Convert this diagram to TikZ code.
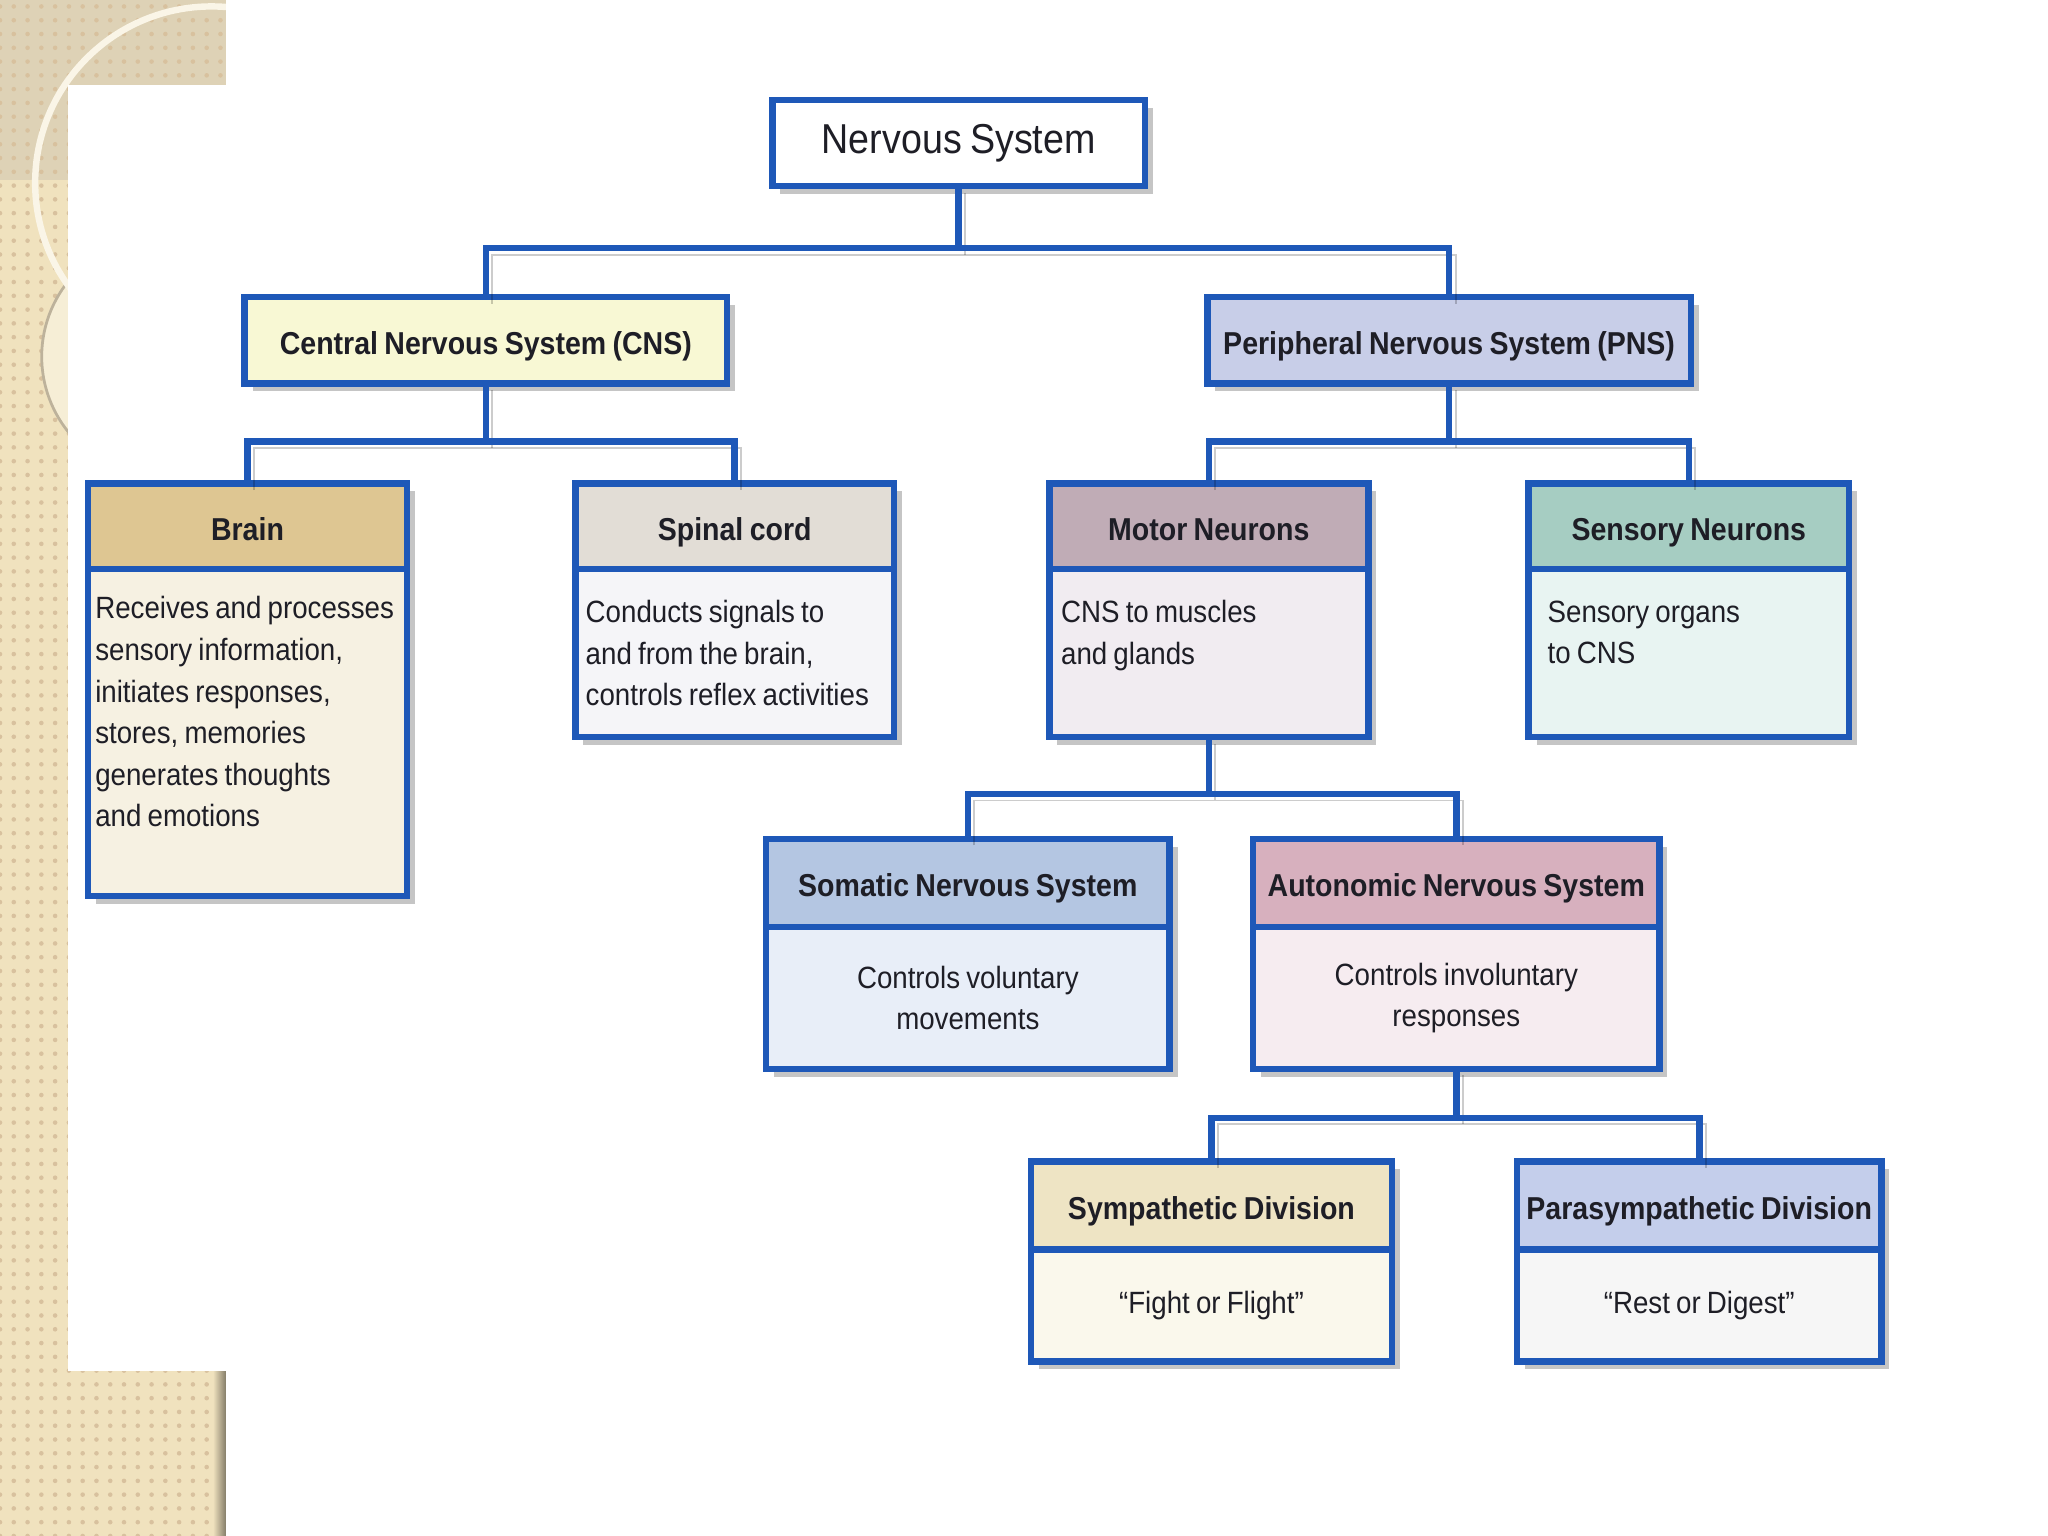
\documentclass[tikz,border=0pt]{standalone}
\usepackage{fontspec}
\setmainfont{Liberation Sans}[FakeStretch=0.9, WordSpace=0.8]
\usepackage{tikz}
\usetikzlibrary{positioning}
\usetikzlibrary{shadows}
\usetikzlibrary{patterns}
\usepackage{xcolor}

\definecolor{nsblue}{RGB}{30,88,184}
\definecolor{nstext}{RGB}{30,30,38}
\definecolor{nsbeige}{RGB}{240,226,190}
\definecolor{nsgrey}{RGB}{222,210,182}
\definecolor{nscream}{RGB}{246,238,214}
\definecolor{cnsh}{RGB}{248,248,212}
\definecolor{pnsh}{RGB}{200,206,232}
\definecolor{brainh}{RGB}{222,198,146}
\definecolor{brainb}{RGB}{246,241,226}
\definecolor{spinalh}{RGB}{226,221,214}
\definecolor{spinalb}{RGB}{245,245,248}
\definecolor{motorh}{RGB}{192,172,182}
\definecolor{motorb}{RGB}{241,236,241}
\definecolor{sensh}{RGB}{166,205,194}
\definecolor{sensb}{RGB}{232,244,242}
\definecolor{somh}{RGB}{180,198,226}
\definecolor{somb}{RGB}{232,238,248}
\definecolor{autoh}{RGB}{215,176,190}
\definecolor{autob}{RGB}{246,236,240}
\definecolor{symh}{RGB}{238,228,196}
\definecolor{symb}{RGB}{250,248,236}
\definecolor{parah}{RGB}{196,206,235}
\definecolor{parab}{RGB}{246,246,246}

\newcommand{\nstitle}{\fontsize{9.1}{11}\selectfont}
\newcommand{\nshead}{\fontsize{6.9}{8}\selectfont\bfseries}
\newcommand{\nsbody}{\fontsize{6.7}{9.05}\selectfont}

\tikzset{
  box/.style={draw=nsblue, line width=0.05cm, inner sep=0pt, outer sep=0pt, text=nstext,
    drop shadow={shadow xshift=0.06cm, shadow yshift=-0.06cm, opacity=0.45}},
  head/.style={box, font=\nshead, text height=1.6ex, text depth=0.45ex},
  note/.style={box, font=\nsbody, execute at begin node={\spaceskip=0pt\relax}},
  link/.style={draw=nsblue, line width=0.05cm,
    preaction={draw=black, opacity=0.2, transform canvas={xshift=0.05cm, yshift=-0.05cm}}},
}

\begin{document}
\begin{tikzpicture}[x=0.01cm, y=-0.01cm]
  \useasboundingbox (0,0) rectangle (1568,1176);
  % slide background
  \fill[white] (0,0) rectangle (1568,1176);
  \begin{scope}
    \clip (0,0) rectangle (173,1176);
    \fill[nsbeige] (0,0) rectangle (173,1176);
    \fill[nsgrey] (0,0) rectangle (173,138);
    \fill[pattern=dots, pattern color=nsgrey!80!brown] (0,0) rectangle (173,1176);
    \draw[nsgrey!85!black, fill=nscream, line width=0.6pt] (124,273) circle[radius=0.92cm];
    \draw[nscream!60!white, line width=1.4pt] (162,140) circle[radius=1.35cm];
  \end{scope}
  \shade[left color=nsbeige, right color=nsbeige!55!black] (163,1050) rectangle (173,1176);
  \fill[white] (52,65) rectangle (1452,1050);

  \node[box, fill=white, font=\nstitle, minimum width=2.85cm, minimum height=0.66cm] (ns) at (734,109.5) {Nervous System};

  \node[head, fill=cnsh, minimum width=3.69cm, minimum height=0.66cm] (cns) at (372,260.5) {Central Nervous System (CNS)};
  \node[head, fill=pnsh, minimum width=3.70cm, minimum height=0.66cm] (pns) at (1109.5,260.5) {Peripheral Nervous System (PNS)};

  \node[head, fill=brainh, minimum width=2.44cm, minimum height=0.655cm] (brain) at (189.5,403) {Brain};
  \node[note, fill=brainb, minimum width=2.44cm, minimum height=2.5cm, text width=2.33cm, align=left, below=0pt of brain] (brainb)
    {Receives and processes\\ sensory information,\\ initiates responses,\\ stores, memories\\ generates thoughts\\ and emotions\\ ~};

  \node[head, fill=spinalh, minimum width=2.44cm, minimum height=0.655cm] (spinal) at (562.5,403) {Spinal cord};
  \node[note, fill=spinalb, minimum width=2.44cm, minimum height=1.285cm, text width=2.28cm, align=left, below=0pt of spinal] (spinalb)
    {Conducts signals to\\ and from the brain,\\ controls reflex activities};

  \node[head, fill=motorh, minimum width=2.44cm, minimum height=0.655cm] (motor) at (925.5,403) {Motor Neurons};
  \node[note, fill=motorb, minimum width=2.44cm, minimum height=1.285cm, text width=2.26cm, align=left, below=0pt of motor] (motorb)
    {CNS to muscles\\ and glands\\ ~};

  \node[head, fill=sensh, minimum width=2.45cm, minimum height=0.655cm] (sensory) at (1293,403) {Sensory Neurons};
  \node[note, fill=sensb, minimum width=2.45cm, minimum height=1.285cm, text width=2.16cm, align=left, below=0pt of sensory] (sensoryb)
    {Sensory organs\\ to CNS\\ ~};

  \node[head, fill=somh, minimum width=3.09cm, minimum height=0.675cm] (somatic) at (741,676) {Somatic Nervous System};
  \node[note, fill=somb, minimum width=3.09cm, minimum height=1.085cm, align=center, below=0pt of somatic] (somaticb)
    {Controls voluntary\\ movements};

  \node[head, fill=autoh, minimum width=3.11cm, minimum height=0.675cm] (autonomic) at (1115,676) {Autonomic Nervous System};
  \node[note, fill=autob, minimum width=3.11cm, minimum height=1.085cm, align=center, below=0pt of autonomic] (autonomicb)
    {Controls involuntary\\ responses};

  \node[head, fill=symh, minimum width=2.76cm, minimum height=0.675cm] (symp) at (927.5,923) {Sympathetic Division};
  \node[note, fill=symb, minimum width=2.76cm, minimum height=0.855cm, below=0pt of symp] (sympb) {“Fight or Flight”};

  \node[head, fill=parah, minimum width=2.79cm, minimum height=0.675cm] (para) at (1301,923) {Parasympathetic Division};
  \node[note, fill=parab, minimum width=2.79cm, minimum height=0.855cm, below=0pt of para] (parab) {“Rest or Digest”};

  % connectors
  \draw[link] (ns.south) -- ++(0,47.5) coordinate (j1);
  \draw[link] (cns.north) |- (j1) -| (pns.north);
  \draw[link] (cns.south) -- ++(0,44.5) coordinate (j2);
  \draw[link] (brain.north) |- (j2) -| (spinal.north);
  \draw[link] (pns.south) -- ++(0,44.5) coordinate (j3);
  \draw[link] (motor.north) |- (j3) -| (sensory.north);
  \draw[link] (motorb.south) -- ++(0,43.5) coordinate (j4);
  \draw[link] (somatic.north) |- (j4) -| (autonomic.north);
  \draw[link] (autonomicb.south) -- ++(0,37.5) coordinate (j5);
  \draw[link] (symp.north) |- (j5) -| (para.north);
\end{tikzpicture}
\end{document}
